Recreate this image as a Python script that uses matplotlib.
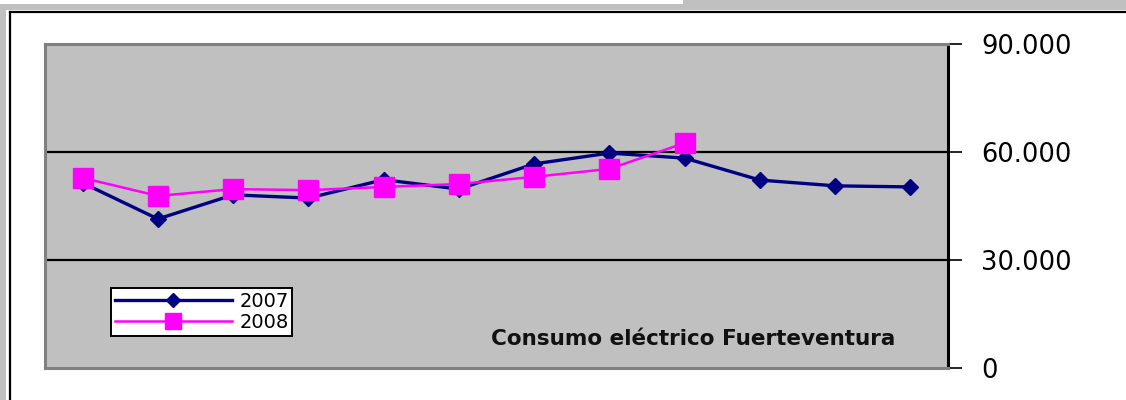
import matplotlib.pyplot as plt
from matplotlib.patches import Rectangle
from matplotlib.lines import Line2D

# monthly electricity consumption, Fuerteventura (MWh)
months = ['Ene', 'Feb', 'Mar', 'Abr', 'May', 'Jun', 'Jul', 'Ago', 'Sep', 'Oct', 'Nov', 'Dic']
consumo_2007 = [51400, 41400, 48100, 47200, 52300, 49700, 56700, 59700, 58300, 52200, 50600, 50300]
consumo_2008 = [52800, 47800, 49700, 49400, 50300, 51100, 53100, 55300, 62500]
yticks = [0, 30000, 60000, 90000]
ytick_labels = ['0', '30.000', '60.000', '90.000']

fig = plt.figure(figsize=(11.26, 4), dpi=100)
fig.patch.set_facecolor('white')

# outer frame bits (screenshot border)
fig.add_artist(Rectangle((0, 0.974), 1, 0.026, transform=fig.transFigure,
                         facecolor='#c0c0c0', edgecolor='none'))
fig.add_artist(Rectangle((0, 0.99), 0.607, 0.01, transform=fig.transFigure,
                         facecolor='white', edgecolor='none'))
fig.add_artist(Rectangle((0, 0), 0.0053, 0.974, transform=fig.transFigure,
                         facecolor='#c0c0c0', edgecolor='none'))
fig.add_artist(Line2D([0.0093, 1], [0.971, 0.971], transform=fig.transFigure,
                      color='black', lw=1.6))
fig.add_artist(Line2D([0.0093, 0.0093], [0, 0.971], transform=fig.transFigure,
                      color='black', lw=1.6))

ax = fig.add_axes([0.040, 0.080, 0.802, 0.810])
ax.set_facecolor('#c0c0c0')

x = list(range(len(months)))
ax.plot(x, consumo_2007, color='#000080', lw=2.4, marker='D', markersize=8,
        label='2007', zorder=3)
ax.plot(x[:len(consumo_2008)], consumo_2008, color='#ff00ff', lw=1.8, marker='s',
        markersize=14, label='2008', zorder=4)

for v in [30000, 60000]:
    ax.axhline(v, color='black', lw=1.6, zorder=1)

ax.set_xlim(-0.5, len(months) - 0.5)
ax.set_ylim(0, 90000)
ax.set_xticks([])
ax.yaxis.tick_right()
ax.set_yticks(yticks)
ax.set_yticklabels(ytick_labels, fontsize=18.5, ha='left')
ax.tick_params(axis='y', direction='out', length=10, width=1.2, pad=14,
               colors='black')

for side in ['left', 'top', 'bottom']:
    ax.spines[side].set_color('#808080')
    ax.spines[side].set_linewidth(2.2)
ax.spines['right'].set_color('black')
ax.spines['right'].set_linewidth(2.2)

leg = ax.legend(loc='lower left', bbox_to_anchor=(0.073, 0.099), borderaxespad=0,
                fontsize=14, frameon=True, fancybox=False, handlelength=6.0,
                borderpad=0.2, labelspacing=0.12, handletextpad=0.4,
                markerscale=0.85)
leg.get_frame().set_edgecolor('black')
leg.get_frame().set_linewidth(1.4)
leg.get_frame().set_facecolor('white')
leg.get_frame().set_alpha(1)

ax.text(0.942, 0.09, 'Consumo eléctrico Fuerteventura', transform=ax.transAxes,
        ha='right', va='center', fontsize=15.5, fontweight='bold', color='#111111')

fig.savefig('out.png', dpi=100)
